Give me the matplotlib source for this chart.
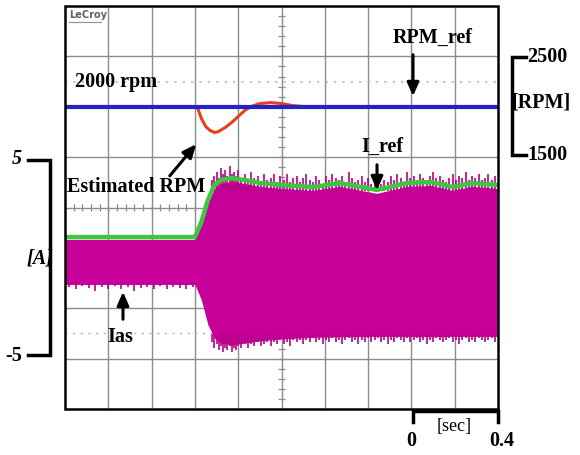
import numpy as np
import matplotlib
matplotlib.use("Agg")
import matplotlib.pyplot as plt
from matplotlib.patches import Rectangle

# ---------------- data ----------------
# time in seconds (0.2 s / division, 10 divisions)
t_rpm = [0.0, 0.61, 0.63, 0.65, 0.67, 0.69, 0.71, 0.74, 0.77, 0.80, 0.83, 0.86, 0.90, 0.95, 1.00, 1.05, 1.10, 2.0]
rpm_est = [2000, 2000, 1878, 1796, 1755, 1735, 1745, 1786, 1837, 1898, 1959, 2000, 2030, 2040, 2030, 2010, 2000, 2000]
t_ref = [0.0, 2.0]
rpm_ref = [2000, 2000]

t_cur = [0.0, 0.60, 0.63, 0.66, 0.69, 0.72, 0.77, 0.83, 0.90, 1.00, 1.145, 1.27, 1.44, 1.58, 1.69, 1.79, 1.88, 2.0]
i_ref = [1.07, 1.07, 1.84, 2.96, 3.72, 3.98, 4.08, 3.98, 3.83, 3.72, 3.62, 3.83, 3.47, 3.83, 3.88, 3.62, 3.83, 3.72]
ias_top = [0.95, 0.95, 1.70, 2.80, 3.55, 3.80, 3.90, 3.80, 3.65, 3.55, 3.45, 3.65, 3.30, 3.65, 3.70, 3.45, 3.65, 3.55]
ias_bot = [-1.35, -1.35, -2.14, -3.40, -4.08, -4.34, -4.44, -4.34, -4.23, -4.13, -4.05, -4.02, -4.0, -4.0, -4.02, -4.0, -4.0, -4.0]

# peak spikes of the phase current envelope after the step
t_pk = [0.68, 0.69, 0.70, 0.71, 0.72, 0.73, 0.74, 0.75, 0.76, 0.77, 0.78, 0.79, 0.80, 0.815, 0.83, 0.845,
        0.86, 0.875, 0.89, 0.905, 0.92, 0.935, 0.95, 0.965, 0.98, 0.995, 1.01, 1.025, 1.04, 1.055,
        1.07, 1.085, 1.10, 1.115, 1.13, 1.145, 1.16, 1.175, 1.19, 1.205, 1.22, 1.235, 1.25, 1.265,
        1.28, 1.295, 1.31, 1.325, 1.34, 1.355, 1.37, 1.385, 1.40, 1.415, 1.43, 1.445, 1.46, 1.475,
        1.49, 1.505, 1.52, 1.535, 1.55, 1.565, 1.58, 1.595, 1.61, 1.625, 1.64, 1.655, 1.67, 1.685,
        1.70, 1.715, 1.73, 1.745, 1.76, 1.775, 1.79, 1.805, 1.82, 1.835, 1.85, 1.865, 1.88, 1.895,
        1.91, 1.925, 1.94, 1.955, 1.97, 1.985]
ias_pk = [4.0, 4.2, 4.4, 4.1, 4.6, 4.3, 4.5, 4.2, 4.7, 4.3, 4.4, 4.2, 4.5, 4.1, 4.3, 4.0,
          4.4, 4.1, 4.2, 3.9, 4.3, 4.0, 4.1, 4.3, 3.9, 4.2, 4.0, 4.3, 3.9, 4.1,
          4.2, 3.9, 4.1, 4.3, 4.0, 3.9, 4.2, 4.0, 3.8, 4.2, 4.0, 4.3, 4.1, 4.0,
          4.2, 3.9, 4.4, 4.1, 3.9, 4.0, 4.2, 3.9, 4.1, 3.8, 3.9, 4.1, 3.8, 4.0,
          3.9, 4.2, 4.0, 4.3, 4.1, 3.9, 4.4, 4.1, 4.2, 4.0, 4.3, 4.1, 4.0, 4.2,
          4.4, 4.1, 4.2, 4.0, 3.9, 4.1, 4.3, 4.0, 4.2, 4.1, 4.4, 4.0, 4.2, 4.1,
          4.3, 4.0, 4.1, 4.3, 4.0, 4.2]
ias_trough = [-4.3, -4.6, -4.4, -4.7, -4.5, -4.8, -4.6, -4.7, -4.5, -4.8, -4.6, -4.7, -4.5, -4.6, -4.4, -4.6,
              -4.4, -4.5, -4.3, -4.5, -4.4, -4.3, -4.5, -4.3, -4.4, -4.2, -4.4, -4.3, -4.5, -4.2,
              -4.3, -4.2, -4.4, -4.2, -4.3, -4.1, -4.3, -4.2, -4.4, -4.2, -4.3, -4.1, -4.3, -4.2,
              -4.4, -4.2, -4.1, -4.3, -4.2, -4.4, -4.2, -4.3, -4.1, -4.3, -4.2, -4.1, -4.3, -4.2,
              -4.4, -4.2, -4.3, -4.1, -4.2, -4.3, -4.1, -4.3, -4.2, -4.1, -4.3, -4.2, -4.4, -4.2,
              -4.3, -4.1, -4.2, -4.3, -4.2, -4.1, -4.3, -4.2, -4.4, -4.2, -4.1, -4.3, -4.2, -4.3,
              -4.1, -4.2, -4.3, -4.2, -4.1, -4.3]
# troughs before the step
t_pre = [0.02, 0.05, 0.08, 0.11, 0.14, 0.17, 0.20, 0.23, 0.26, 0.29, 0.32, 0.35, 0.38, 0.41,
         0.44, 0.47, 0.50, 0.53, 0.56, 0.59]
ias_pre = [-1.5, -1.6, -1.45, -1.55, -1.7, -1.5, -1.6, -1.45, -1.6, -1.5, -1.7, -1.55, -1.5,
           -1.6, -1.45, -1.6, -1.5, -1.55, -1.6, -1.5]

cur_ticks = ["5", "-5"]
rpm_ticks = ["2500", "1500"]
sec_ticks = ["0", "0.4"]

# ---------------- layout ----------------
W, H = 580, 455
fig = plt.figure(figsize=(W / 100, H / 100), dpi=100)
L, R, T, B = 65, 498, 6, 409
rect = [L / W, (H - B) / H, (R - L) / W, (B - T) / H]

# grid (scope graticule)
axg = fig.add_axes(rect)
axg.set_xlim(0, 10)
axg.set_ylim(0, 8)
axg.set_xticks([]); axg.set_yticks([])
for s in axg.spines.values():
    s.set_visible(False)
axg.vlines(range(1, 10), 0, 8, color="#8c8c8c", lw=1.0)
axg.hlines(range(1, 8), 0, 10, color="#8c8c8c", lw=1.0)
minor = [i * 0.2 for i in range(1, 50)]
axg.hlines([m for m in minor if m < 8], 4.93, 5.07, color="#8c8c8c", lw=0.9)
axg.vlines(minor, 3.93, 4.07, color="#8c8c8c", lw=0.9)
axg.hlines(6.5, 0, 10, color="#c8a0d4", lw=1.1, linestyles=(0, (1.5, 4)))
axg.hlines(1.5, 0, 10, color="#b0b0b0", lw=1.0, linestyles=(0, (1.5, 4)))

# current axes
px_per_A = 19.6
y0A = 258
ax = fig.add_axes(rect)
ax.set_xlim(0, 2.0)
ax.set_ylim((y0A - B) / px_per_A, (y0A - T) / px_per_A)
ax.axis("off")
mag = "#C8009A"
ax.fill_between(t_cur, ias_bot, ias_top, color=mag, lw=0, zorder=2)
ax.vlines(t_pk, 3.4, ias_pk, color="#B8008A", lw=1.2, zorder=2)
ax.vlines(t_pk, -3.9, ias_trough, color="#B8008A", lw=1.2, zorder=2)
ax.vlines(t_pre, -1.3, ias_pre, color="#B8008A", lw=1.2, zorder=2)
ax.plot(t_cur, i_ref, color="#3CC83C", lw=3.2, zorder=3)

# rpm axes
px_per_krpm = 98.0
y2000 = 106.5
ax2 = fig.add_axes(rect)
ax2.set_xlim(0, 2.0)
ax2.set_ylim(2000 - (B - y2000) / px_per_krpm * 1000, 2000 + (y2000 - T) / px_per_krpm * 1000)
ax2.axis("off")
ax2.plot(t_rpm, rpm_est, color="#E8401A", lw=2.2, zorder=3)
ax2.plot(t_ref, rpm_ref, color="#2424C4", lw=3.0, zorder=4)

# overlay in pixel coordinates
ov = fig.add_axes([0, 0, 1, 1])
ov.set_xlim(0, W)
ov.set_ylim(H, 0)
ov.axis("off")
ov.patch.set_visible(False)
ov.add_patch(Rectangle((L, T), R - L, B - T, fill=False, ec="black", lw=1.8))

ff = "Liberation Serif"
bold = dict(family=ff, weight="bold", color="black")
fs = 14.5

ov.text(69, 15, "LeCroy", family="DejaVu Sans", weight="bold", fontsize=7, color="#606060", va="center", ha="left")
ov.plot([69, 101], [22, 22], color="#909090", lw=0.8)

arw = dict(arrowstyle="-|>,head_width=0.35,head_length=0.8", color="black", lw=2.2)
ov.text(433, 38, "RPM_ref", fontsize=fs, ha="center", va="center", **bold)
ov.annotate("", xy=(413, 99), xytext=(413, 52), arrowprops=arw)
ov.text(75, 82, "2000 rpm", fontsize=fs, ha="left", va="center", **bold)
ov.text(67, 187, "Estimated RPM", fontsize=fs, ha="left", va="center", **bold)
ov.annotate("", xy=(198, 142), xytext=(168, 178), arrowprops=arw)
ov.text(382, 147, "I_ref", fontsize=fs, ha="center", va="center", **bold)
ov.annotate("", xy=(377, 193), xytext=(377, 162), arrowprops=arw)
ov.text(120, 337, "Ias", fontsize=fs, ha="center", va="center", **bold)
ov.annotate("", xy=(123, 289), xytext=(123, 322), arrowprops=arw)

# left bracket (current)
ov.plot([28, 50, 50, 28], [160, 160, 355, 355], color="black", lw=2.5, solid_joinstyle="miter")
ov.text(17, 159, cur_ticks[0], fontsize=fs, ha="center", va="center", style="italic", **bold)
ov.text(14, 356, cur_ticks[1], fontsize=fs, ha="center", va="center", **bold)
ov.text(40, 258, "[A]", fontsize=fs, ha="center", va="center", style="italic", **bold)

# right bracket (rpm)
ov.plot([526, 512, 512, 526], [57, 57, 155, 155], color="black", lw=2.5, solid_joinstyle="miter")
ov.text(527, 57, rpm_ticks[0], fontsize=fs, ha="left", va="center", **bold)
ov.text(527, 155, rpm_ticks[1], fontsize=fs, ha="left", va="center", **bold)
ov.text(541, 103, "[RPM]", fontsize=fs, ha="center", va="center", **bold)

# bottom bracket (time)
ov.plot([413, 413, 498, 498], [422, 411, 411, 422], color="black", lw=2.5, solid_joinstyle="miter")
ov.text(411, 441, sec_ticks[0], fontsize=fs, ha="center", va="center", **bold)
ov.text(502, 441, sec_ticks[1], fontsize=fs, ha="center", va="center", **bold)
ov.text(454, 427, "[sec]", fontsize=13, ha="center", va="center", family=ff, color="black")

fig.savefig("out.png", dpi=100)
